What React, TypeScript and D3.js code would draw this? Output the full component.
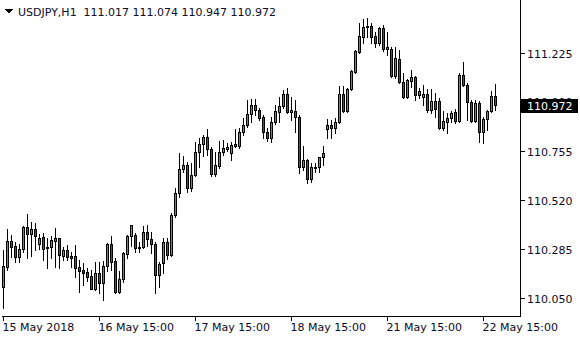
import React from 'react';
import * as d3 from 'd3';

const SYMBOL = 'USDJPY,H1';
const openP = [
  110.098, 110.194, 110.319, 110.295, 110.242, 110.281, 110.386, 110.353, 110.377, 110.305,
  110.338, 110.286, 110.290, 110.319, 110.334, 110.247, 110.276, 110.247, 110.247, 110.194,
  110.180, 110.170, 110.151, 110.089, 110.166, 110.118, 110.199, 110.305, 110.223, 110.074,
  110.137, 110.257, 110.343, 110.348, 110.286, 110.290, 110.362, 110.329, 110.305, 110.156,
  110.214, 110.314, 110.252, 110.444, 110.550, 110.665, 110.684, 110.574, 110.636, 110.746,
  110.785, 110.818, 110.761, 110.641, 110.679, 110.746, 110.761, 110.742, 110.775, 110.775,
  110.842, 110.876, 110.929, 110.972, 110.948, 110.914, 110.842, 110.814, 110.890, 110.938,
  110.967, 111.025, 110.938, 110.943, 110.914, 110.674, 110.708, 110.617, 110.670, 110.674,
  110.722, 110.857, 110.876, 110.862, 110.890, 111.025, 110.943, 111.049, 111.130, 111.226,
  111.298, 111.346, 111.351, 111.303, 111.270, 111.342, 111.241, 111.241, 111.111, 111.193,
  111.082, 111.010, 111.087, 111.106, 111.020, 111.010, 111.025, 110.948, 110.991, 110.991,
  110.862, 110.890, 110.910, 110.938, 110.895, 111.116, 111.068, 110.986, 110.895, 110.982,
  110.842, 110.905, 110.943, 111.017,
];
const highP = [
  110.276, 110.377, 110.348, 110.314, 110.305, 110.391, 110.449, 110.410, 110.406, 110.353,
  110.358, 110.334, 110.343, 110.382, 110.334, 110.290, 110.300, 110.266, 110.300, 110.228,
  110.214, 110.190, 110.180, 110.218, 110.218, 110.223, 110.310, 110.343, 110.238, 110.175,
  110.266, 110.348, 110.396, 110.358, 110.314, 110.391, 110.396, 110.362, 110.314, 110.218,
  110.334, 110.334, 110.454, 110.574, 110.742, 110.727, 110.698, 110.694, 110.794, 110.814,
  110.828, 110.857, 110.770, 110.746, 110.799, 110.804, 110.790, 110.794, 110.857, 110.862,
  110.910, 110.996, 111.001, 111.001, 110.958, 110.924, 110.862, 110.914, 110.972, 111.010,
  111.044, 111.054, 111.010, 110.996, 110.924, 110.775, 110.713, 110.694, 110.694, 110.722,
  110.775, 110.905, 110.900, 110.910, 111.063, 111.063, 111.054, 111.140, 111.236, 111.366,
  111.385, 111.390, 111.366, 111.322, 111.346, 111.356, 111.322, 111.250, 111.250, 111.236,
  111.126, 111.097, 111.140, 111.111, 111.054, 111.068, 111.049, 111.049, 111.030, 111.006,
  110.943, 110.934, 110.943, 110.953, 111.126, 111.178, 111.078, 110.996, 110.996, 110.991,
  110.914, 110.948, 111.039, 111.074,
];
const lowP = [
  109.998, 110.180, 110.242, 110.218, 110.218, 110.266, 110.238, 110.247, 110.276, 110.281,
  110.228, 110.190, 110.238, 110.194, 110.190, 110.228, 110.228, 110.194, 110.146, 110.074,
  110.108, 110.127, 110.089, 110.084, 110.070, 110.036, 110.175, 110.180, 110.070, 110.070,
  110.122, 110.238, 110.295, 110.266, 110.266, 110.286, 110.295, 110.262, 110.070, 110.098,
  110.166, 110.233, 110.247, 110.434, 110.530, 110.650, 110.554, 110.559, 110.631, 110.674,
  110.727, 110.732, 110.631, 110.631, 110.670, 110.732, 110.751, 110.708, 110.770, 110.766,
  110.828, 110.866, 110.890, 110.924, 110.900, 110.814, 110.799, 110.794, 110.881, 110.890,
  110.958, 110.934, 110.900, 110.842, 110.646, 110.660, 110.598, 110.602, 110.650, 110.650,
  110.684, 110.814, 110.814, 110.838, 110.886, 110.938, 110.938, 111.044, 111.126, 111.222,
  111.270, 111.298, 111.270, 111.250, 111.260, 111.231, 111.212, 111.106, 111.102, 111.078,
  111.006, 111.006, 111.058, 110.996, 111.006, 110.972, 110.938, 110.934, 110.914, 110.857,
  110.852, 110.838, 110.890, 110.886, 110.890, 111.063, 110.900, 110.890, 110.890, 110.794,
  110.790, 110.852, 110.938, 110.947,
];
const closeP = [
  110.199, 110.319, 110.290, 110.242, 110.281, 110.386, 110.353, 110.377, 110.343, 110.334,
  110.281, 110.290, 110.324, 110.334, 110.252, 110.276, 110.242, 110.238, 110.190, 110.175,
  110.166, 110.146, 110.089, 110.166, 110.118, 110.199, 110.305, 110.218, 110.074, 110.137,
  110.262, 110.343, 110.396, 110.286, 110.290, 110.362, 110.329, 110.305, 110.156, 110.209,
  110.314, 110.252, 110.444, 110.550, 110.665, 110.684, 110.574, 110.636, 110.746, 110.785,
  110.818, 110.761, 110.641, 110.684, 110.746, 110.766, 110.770, 110.780, 110.785, 110.842,
  110.876, 110.929, 110.972, 110.948, 110.910, 110.842, 110.814, 110.890, 110.943, 110.967,
  111.025, 110.938, 110.948, 110.914, 110.674, 110.708, 110.617, 110.674, 110.674, 110.722,
  110.742, 110.876, 110.862, 110.890, 111.025, 110.943, 111.049, 111.135, 111.231, 111.303,
  111.346, 111.351, 111.298, 111.270, 111.342, 111.241, 111.250, 111.111, 111.198, 111.082,
  111.010, 111.092, 111.106, 111.020, 111.039, 111.025, 110.948, 110.991, 110.953, 110.862,
  110.895, 110.910, 110.934, 110.895, 111.116, 111.068, 110.986, 110.895, 110.982, 110.842,
  110.905, 110.943, 111.015, 110.972,
];
const xTickIndex = [0, 24, 48, 72, 96, 120];
const xTickLabels = ['15 May 2018', '16 May 15:00', '17 May 15:00', '18 May 15:00', '21 May 15:00', '22 May 15:00'];
const yTicks = [111.225, 110.99, 110.755, 110.52, 110.285, 110.05];
const lastPrice = 110.972;

const FONT = '"DejaVu Sans", Verdana, sans-serif';
const TXT = '#0c0a26';
const BULL = '#3daa3d';
const BEAR = '#d01c1c';

export default function App() {
  const W = 580;
  const H = 340;
  const n = openP.length;
  const x = d3.scaleLinear().domain([0, n - 1]).range([3.5, 3.5 + 4 * (n - 1)]);
  const y = d3.scaleLinear().domain([110.05, 111.225]).range([297.5, 52.5]);
  const fmt = d3.format('.3f');
  const plotRight = 520.5;
  const plotBottom = 316.5;

  const candles = d3.range(n).map((i) => {
    const o = openP[i], c = closeP[i], h = highP[i], l = lowP[i];
    const cx = x(i);
    const top = Math.round(y(Math.max(o, c)));
    const bot = Math.round(y(Math.min(o, c)));
    const hy = Math.round(y(h));
    const ly = Math.round(y(l));
    const up = c >= o;
    return (
      <g key={i}>
        <line x1={cx} x2={cx} y1={hy} y2={ly + 1} stroke="#000" strokeWidth={1} />
        {bot - top >= 1 ? (
          <rect x={cx - 1} y={top + 0.5} width={2} height={bot - top} fill={up ? BULL : BEAR} stroke="#000" strokeWidth={1} />
        ) : (
          <line x1={cx - 1.5} x2={cx + 1.5} y1={top + 0.5} y2={top + 0.5} stroke="#000" strokeWidth={1} />
        )}
      </g>
    );
  });

  const lastY = Math.round(y(lastPrice)) + 0.5;

  return (
    <svg
      width={W}
      height={H}
      style={{ position: 'absolute', left: 0, top: 0, background: '#fff' }}
      shapeRendering="crispEdges"
    >
      <rect x={0} y={0} width={W} height={H} fill="#fff" />
      {/* header */}
      <path d="M5,9 L13,9 L9,14 Z" fill="#000" />
      <text x={18} y={16} fontFamily={FONT} fontSize={11} fill={TXT} style={{ whiteSpace: 'pre' }}>
        {`${SYMBOL}  ${fmt(openP[n - 1])} ${fmt(highP[n - 1])} ${fmt(lowP[n - 1])} ${fmt(closeP[n - 1])}`}
      </text>
      {/* candles */}
      {candles}
      {/* frame */}
      <line x1={plotRight} x2={plotRight} y1={0} y2={plotBottom + 0.5} stroke="#000" />
      <line x1={2} x2={plotRight + 0.5} y1={plotBottom} y2={plotBottom} stroke="#000" />
      {/* y axis */}
      {yTicks.map((v) => {
        const ty = Math.round(y(v)) + 0.5;
        return (
          <g key={v}>
            <line x1={plotRight} x2={plotRight + 4} y1={ty} y2={ty} stroke="#000" />
            <text x={527} y={ty + 4} fontFamily={FONT} fontSize={11} fill={TXT}>
              {fmt(v)}
            </text>
          </g>
        );
      })}
      {/* current price */}
      <rect x={521} y={lastY - 7} width={57} height={14} fill="#000" />
      <text x={527} y={lastY + 4} fontFamily={FONT} fontSize={11} fill="#fff">
        {fmt(lastPrice)}
      </text>
      {/* x axis */}
      {xTickIndex.map((idx, k) => {
        const tx = x(idx);
        return (
          <g key={idx}>
            <line x1={tx} x2={tx} y1={plotBottom} y2={plotBottom + 4} stroke="#000" />
            <text x={tx - 1} y={331} fontFamily={FONT} fontSize={11} fill={TXT}>
              {xTickLabels[k]}
            </text>
          </g>
        );
      })}
    </svg>
  );
}
